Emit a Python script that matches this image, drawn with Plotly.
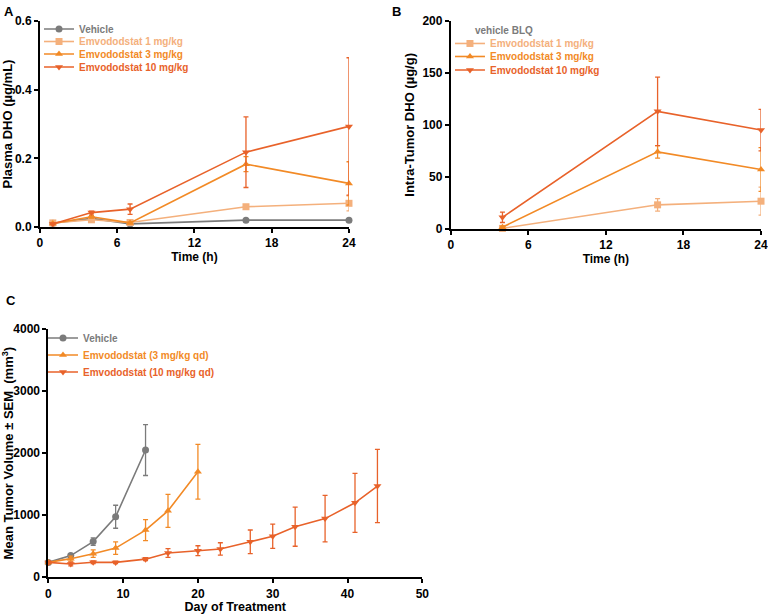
import plotly.graph_objects as go

# Panel A: plasma DHO (ug/mL)
time_a = [1, 4, 7, 16, 24]
vehicle_a = [0.011, 0.025, 0.009, 0.020, 0.020]
vehicle_a_err = [0.002, 0.004, 0.002, 0.002, 0.002]
dose1_a = [0.012, 0.021, 0.013, 0.059, 0.069]
dose1_a_err = [0.002, 0.004, 0.002, 0.005, 0.022]
dose3_a = [0.010, 0.030, 0.012, 0.183, 0.127]
dose3_a_err = [0.002, 0.004, 0.002, 0.022, 0.063]
dose10_a = [0.009, 0.042, 0.052, 0.218, 0.293]
dose10_a_err = [0.002, 0.004, 0.015, 0.103, 0.200]

# Panel B: intra-tumor DHO (ug/g)
time_b = [4, 16, 24]
dose1_b = [0.3, 23, 26.5]
dose1_b_err = [0.5, 6, 13.5]
dose3_b = [1.5, 74, 57]
dose3_b_err = [1, 6, 21]
dose10_b = [11, 113, 95]
dose10_b_err = [5, 33, 20]

# Panel C: tumor volume (mm3)
days_veh = [0, 3, 6, 9, 13]
vol_veh = [240, 350, 575, 975, 2050]
vol_veh_err = [20, 30, 60, 185, 410]
days_3 = [0, 3, 6, 9, 13, 16, 20]
vol_3 = [240, 300, 380, 470, 760, 1070, 1700]
vol_3_err = [20, 40, 60, 100, 170, 265, 440]
days_10 = [0, 3, 6, 9, 13, 16, 20, 23, 27, 30, 33, 37, 41, 44]
vol_10 = [240, 215, 242, 240, 292, 392, 428, 456, 572, 660, 815, 945, 1200, 1470]
vol_10_err = [20, 30, 20, 20, 25, 70, 80, 100, 190, 195, 315, 375, 475, 590]

GRAY = "#7b7b7b"
C1 = "#f4b07c"
C3 = "#f28a26"
C10 = "#e8622a"
FONT = "Liberation Sans, Arial, sans-serif"


def colored(text, color):
    return f"<span style='color:{color}'>{text}</span>"


def series(x, y, err, name, color, symbol, xa, ya, legend):
    return go.Scatter(
        x=x, y=y, mode="lines+markers", name=colored(name, color),
        line=dict(color=color, width=1.6),
        marker=dict(color=color, symbol=symbol, size=7),
        error_y=dict(type="data", array=err, color=color, thickness=1.3, width=2.5),
        xaxis=xa, yaxis=ya, legend=legend, showlegend=True, cliponaxis=False,
    )


fig = go.Figure()

fig.add_trace(series(time_a, vehicle_a, vehicle_a_err, "Vehicle", GRAY, "circle", "x", "y", "legend"))
fig.add_trace(series(time_a, dose1_a, dose1_a_err, "Emvododstat 1 mg/kg", C1, "square", "x", "y", "legend2"))
fig.add_trace(series(time_a, dose3_a, dose3_a_err, "Emvododstat 3 mg/kg", C3, "triangle-up", "x", "y", "legend3"))
fig.add_trace(series(time_a, dose10_a, dose10_a_err, "Emvododstat 10 mg/kg", C10, "triangle-down", "x", "y", "legend4"))

fig.add_trace(series(time_b, dose1_b, dose1_b_err, "Emvododstat 1 mg/kg", C1, "square", "x2", "y2", "legend5"))
fig.add_trace(series(time_b, dose3_b, dose3_b_err, "Emvododstat 3 mg/kg", C3, "triangle-up", "x2", "y2", "legend6"))
fig.add_trace(series(time_b, dose10_b, dose10_b_err, "Emvododstat 10 mg/kg", C10, "triangle-down", "x2", "y2", "legend7"))

fig.add_trace(series(days_veh, vol_veh, vol_veh_err, "Vehicle", GRAY, "circle", "x3", "y3", "legend8"))
fig.add_trace(series(days_3, vol_3, vol_3_err, "Emvododstat (3 mg/kg qd)", C3, "triangle-up", "x3", "y3", "legend9"))
fig.add_trace(series(days_10, vol_10, vol_10_err, "Emvododstat (10 mg/kg qd)", C10, "triangle-down", "x3", "y3", "legend10"))

axis_common = dict(
    showline=True, linecolor="black", linewidth=1.8, ticks="outside", ticklen=4,
    tickwidth=1.6, tickcolor="black", showgrid=False, zeroline=False, automargin=False,
    ticklabeloverflow="allow",
    tickfont=dict(family=FONT, size=12, color="black", weight="bold"),
    title_font=dict(family=FONT, size=12, color="black", weight="bold"),
)
ytitle_font = dict(family=FONT, size=13, color="black", weight="bold")


def one_legend(x, y):
    # one entry per legend box so entries can sit as close as in the original
    return dict(
        bgcolor="rgba(0,0,0,0)", font=dict(family=FONT, size=10, weight="bold"),
        xanchor="left", yanchor="middle", itemwidth=30, x=x, y=y,
    )


# legend rows (paper coordinates)
legend_rows = {
    "legend": (0.0508, 0.9528), "legend2": (0.0508, 0.9324),
    "legend3": (0.0508, 0.9121), "legend4": (0.0508, 0.8909),
    "legend5": (0.5859, 0.9292), "legend6": (0.5859, 0.9080), "legend7": (0.5859, 0.8860),
    "legend8": (0.0560, 0.4495), "legend9": (0.0560, 0.4218), "legend10": (0.0560, 0.3941),
}

fig.update_layout(
    width=768, height=614,
    margin=dict(l=0, r=0, t=0, b=0),
    paper_bgcolor="white", plot_bgcolor="white",
    font=dict(family=FONT),
    showlegend=True,
    xaxis=dict(axis_common, domain=[0.052, 0.4544], range=[0, 24], tickvals=[0, 6, 12, 18, 24],
               anchor="y", title=dict(text="Time (h)", standoff=2)),
    yaxis=dict(axis_common, domain=[0.6303, 0.9658], range=[0, 0.6], tickvals=[0, 0.2, 0.4, 0.6],
               tickformat=".1f", anchor="x",
               title=dict(text="Plasma DHO (µg/mL)", standoff=5, font=ytitle_font)),
    xaxis2=dict(axis_common, domain=[0.5869, 0.9909], range=[0, 24], tickvals=[0, 6, 12, 18, 24],
                anchor="y2", title=dict(text="Time (h)", standoff=2)),
    yaxis2=dict(axis_common, domain=[0.6275, 0.9658], range=[0, 200], tickvals=[0, 50, 100, 150, 200],
                anchor="x2", title=dict(text="Intra-Tumor DHO (µg/g)", standoff=5, font=ytitle_font)),
    xaxis3=dict(axis_common, domain=[0.0629, 0.5499], range=[0, 50], tickvals=[0, 10, 20, 30, 40, 50],
                anchor="y3", title=dict(text="Day of Treatment", standoff=3,
                                        font=dict(family=FONT, size=12.5, color="black", weight="bold"))),
    yaxis3=dict(axis_common, domain=[0.0598, 0.4642], range=[0, 4000],
                tickvals=[0, 1000, 2000, 3000, 4000], anchor="x3",
                title=dict(text="Mean Tumor Volume ± SEM  (mm<sup>3</sup>)", standoff=1,
                           font=ytitle_font)),
)
for key, (lx, ly) in legend_rows.items():
    fig.update_layout({key: one_legend(lx, ly)})

fig.add_annotation(text="<b>A</b>", x=0.003, y=0.997, xref="paper", yref="paper",
                   xanchor="left", yanchor="top", showarrow=False, font=dict(size=13, color="black"))
fig.add_annotation(text="<b>B</b>", x=0.508, y=0.997, xref="paper", yref="paper",
                   xanchor="left", yanchor="top", showarrow=False, font=dict(size=13, color="black"))
fig.add_annotation(text="<b>C</b>", x=0.005, y=0.51, xref="paper", yref="paper",
                   xanchor="left", yanchor="middle", showarrow=False, font=dict(size=13, color="black"))
fig.add_annotation(text="<b>vehicle BLQ</b>", x=0.6155, y=0.9511, xref="paper", yref="paper",
                   xanchor="left", yanchor="middle", showarrow=False,
                   font=dict(size=10, color=GRAY))

fig.write_html("out.html", config={"displayModeBar": False},
               post_script="document.body.style.margin='0px';")
